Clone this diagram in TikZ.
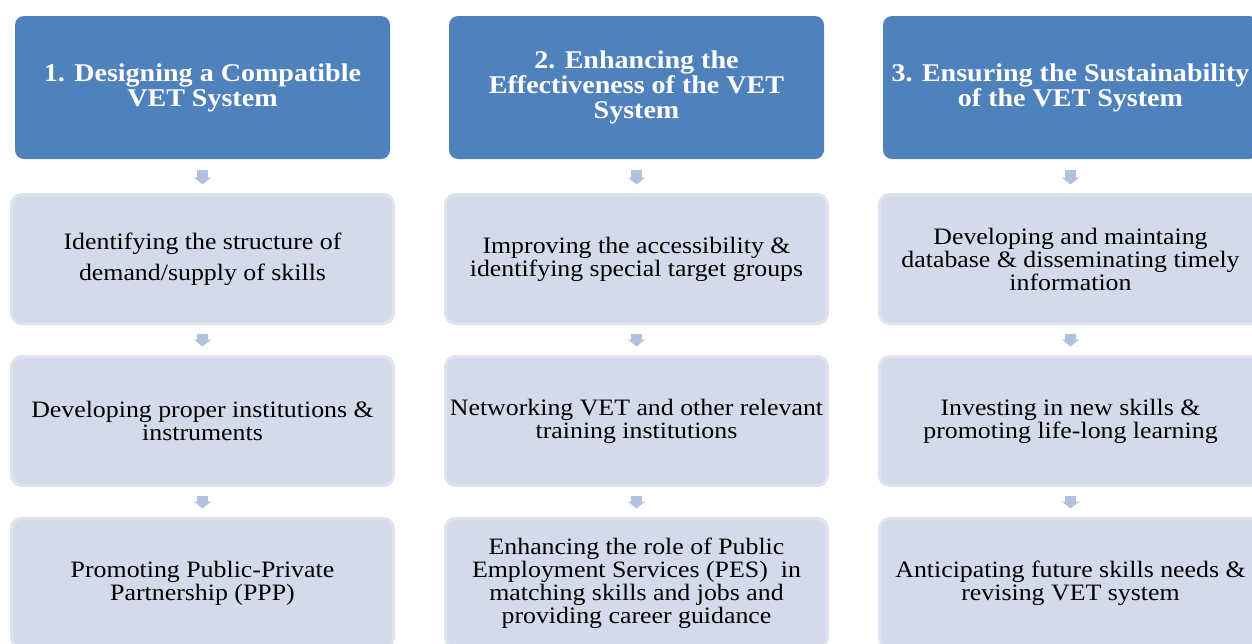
\documentclass[tikz,border=0pt]{standalone}
\usepackage{fontspec}
\setmainfont{Liberation Serif}[FakeStretch=1.1]
\usetikzlibrary{arrows.meta,calc}
\definecolor{hdr}{HTML}{4F81BD}
\definecolor{boxfill}{HTML}{D3DAE9}
\definecolor{boxline}{HTML}{DEE4EF}
\definecolor{arr}{HTML}{B0C0DD}
\begin{document}
\begin{tikzpicture}[x=1pt,y=-1pt,
 hdrbox/.style={rectangle, rounded corners=9pt, fill=hdr, text=white, minimum width=375pt, minimum height=143pt, align=center, font=\fontsize{25.5}{25}\selectfont\bfseries, inner sep=0pt},
 stepbox/.style={rectangle, rounded corners=10pt, fill=boxfill, draw=boxline, line width=3pt, minimum width=382pt, minimum height=129pt, align=center, font=\fontsize{23.5}{23}\selectfont, inner sep=0pt},
 flow/.style={draw=arr, line width=11pt, -{Triangle[width=17pt,length=7pt]}}]
\useasboundingbox (0,0) rectangle (1252,643);
\clip (0,0) rectangle (1252,643);
% headers
\node[hdrbox] (h1) at (202.5,87.5) {1. Designing a Compatible\\VET System};
\node[hdrbox] (h2) at (636.5,87.5) {2. Enhancing the\\Effectiveness of the VET\\System};
\node[hdrbox] (h3) at (1070.5,87.5) {3. Ensuring the Sustainability\\of the VET System};
% column 1
\node[stepbox, font=\fontsize{23.5}{31}\selectfont] (b11) at (202.5,259) {Identifying the structure of\\demand/supply of skills};
\node[stepbox] (b12) at (202.5,421) {Developing proper institutions \&\\instruments};
\node[stepbox] (b13) at (202.5,583) {Promoting Public-Private\\Partnership (PPP)};
% column 2
\node[stepbox] (b21) at (636.5,259) {Improving the accessibility \&\\identifying special target groups};
\node[stepbox] (b22) at (636.5,421) {Networking VET and other relevant\\training institutions};
\node[stepbox] (b23) at (636.5,583) {Enhancing the role of Public\\Employment Services (PES)\ \ in\\matching skills and jobs and\\providing career guidance};
% column 3
\node[stepbox] (b31) at (1070.5,259) {Developing and maintaing\\database \& disseminating timely\\information};
\node[stepbox] (b32) at (1070.5,421) {Investing in new skills \&\\promoting life-long learning};
\node[stepbox] (b33) at (1070.5,583) {Anticipating future skills needs \&\\revising VET system};
% arrows
\foreach \c in {1,2,3}{
  \draw[flow] ($(h\c.south)+(0,11)$) -- ($(b\c1.north)+(0,-8.5)$);
  \draw[flow] ($(b\c1.south)+(0,8.5)$) -- ($(b\c2.north)+(0,-8.5)$);
  \draw[flow] ($(b\c2.south)+(0,8.5)$) -- ($(b\c3.north)+(0,-8.5)$);
}
\end{tikzpicture}
\end{document}
